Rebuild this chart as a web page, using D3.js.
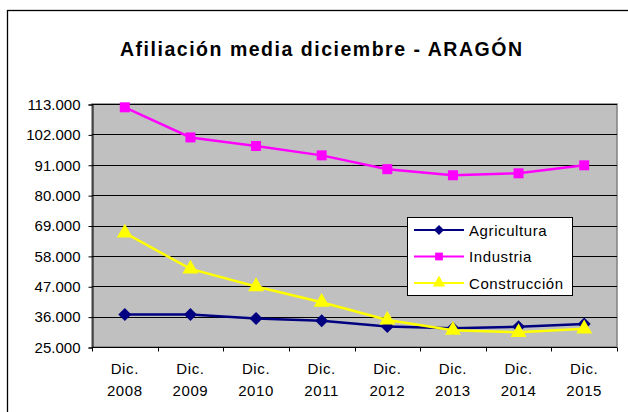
<!DOCTYPE html>
<html>
<head>
<meta charset="utf-8">
<script src="https://cdn.jsdelivr.net/npm/d3@7"></script>
<style>
body{margin:0;background:#fff;}
text{font-family:"Liberation Sans",Arial,sans-serif;}
</style>
</head>
<body>
<script>
// datos
var years=["2008","2009","2010","2011","2012","2013","2014","2015"];
var agricultura=[36800,36800,35300,34500,32400,31800,32300,33300];
var industria=[111800,100900,97800,94400,89400,87200,87900,90800];
var construccion=[66300,53300,46900,41200,34800,31100,30300,31600];
var yTicks=[25000,36000,47000,58000,69000,80000,91000,102000,113000];

var series=[
  {name:"Agricultura",values:agricultura,color:"#000080",symbol:d3.symbolSquare,size:85,rot:45},
  {name:"Industria",values:industria,color:"#ff00ff",symbol:d3.symbolSquare,size:100,rot:0},
  {name:"Construcción",values:construccion,color:"#ffff00",symbol:d3.symbolTriangle,size:110,rot:0}
];

var svg=d3.select("body").append("svg").attr("width",628).attr("height",412);

svg.append("rect").attr("x",7.5).attr("y",10.5).attr("width",660).attr("height",440)
   .attr("fill","#fff").attr("stroke","#000").attr("stroke-width",1.3);

svg.append("text").attr("x",321).attr("y",56).attr("text-anchor","middle")
   .attr("font-size",19.5).attr("font-weight","bold")
   .attr("textLength",402).attr("lengthAdjust","spacing")
   .text("Afiliación media diciembre - ARAGÓN");

var L=92,R=617,T=104,B=347;
var x=d3.scaleBand().domain(years).range([L,R]);
var y=d3.scaleLinear().domain([25000,113000]).range([B,T]);

svg.append("rect").attr("x",L).attr("y",T).attr("width",R-L).attr("height",B-T)
   .attr("fill","#c0c0c0").attr("stroke","#808080").attr("stroke-width",1.5);

svg.append("g").selectAll("line").data(yTicks.slice(1)).enter().append("line")
   .attr("x1",L).attr("x2",R).attr("y1",function(d){return Math.round(y(d))+0.5;})
   .attr("y2",function(d){return Math.round(y(d))+0.5;})
   .attr("stroke","#000");

var fmt=function(d){return d3.format(",")(d).replace(/,/g,".");};
var yAxis=d3.axisLeft(y).tickValues(yTicks).tickSize(4).tickPadding(8).tickFormat(fmt);
var gy=svg.append("g").attr("transform","translate("+(L+0.5)+",0.5)").call(yAxis);
gy.attr("font-size",15).attr("font-family",null);
gy.selectAll("text").attr("fill","#000");

// eje x con marcas entre categorias
var gx=svg.append("g").attr("transform","translate(0,"+(B+0.5)+")");
gx.append("line").attr("x1",L).attr("x2",R).attr("stroke","#000");
var bounds=d3.range(years.length+1).map(function(i){return L+i*x.bandwidth();});
gx.selectAll(".tk").data(bounds).enter().append("line")
  .attr("x1",function(d){return Math.round(d)+0.5;}).attr("x2",function(d){return Math.round(d)+0.5;})
  .attr("y1",0).attr("y2",4).attr("stroke","#000");
var lbl=gx.selectAll(".lb").data(years).enter().append("text")
  .attr("text-anchor","middle").attr("font-size",15).attr("letter-spacing",0.6)
  .attr("x",function(d){return x(d)+x.bandwidth()/2;});
lbl.append("tspan").attr("x",function(d){return x(d)+x.bandwidth()/2;}).attr("y",26).text("Dic.");
lbl.append("tspan").attr("x",function(d){return x(d)+x.bandwidth()/2;}).attr("y",48).text(function(d){return d;});

var line=d3.line().x(function(d,i){return x(years[i])+x.bandwidth()/2;}).y(function(d){return y(d);});

series.forEach(function(s){
  svg.append("path").datum(s.values).attr("d",line).attr("fill","none")
     .attr("stroke",s.color).attr("stroke-width",2.5);
  svg.append("g").selectAll("path").data(s.values).enter().append("path")
     .attr("d",d3.symbol().type(s.symbol).size(s.size))
     .attr("transform",function(d,i){return "translate("+(x(years[i])+x.bandwidth()/2)+","+y(d)+") rotate("+s.rot+")";})
     .attr("fill",s.color);
});

// leyenda
var lg=svg.append("g").attr("transform","translate(407,217)");
lg.append("rect").attr("x",0.5).attr("y",0.5).attr("width",165).attr("height",78)
  .attr("fill","#fff").attr("stroke","#000");
series.forEach(function(s,i){
  var cy=13+i*26.5;
  lg.append("line").attr("x1",7).attr("x2",57).attr("y1",cy).attr("y2",cy)
    .attr("stroke",s.color).attr("stroke-width",2);
  lg.append("path").attr("d",d3.symbol().type(s.symbol).size(s.size*0.6))
    .attr("transform","translate(32,"+cy+") rotate("+s.rot+")").attr("fill",s.color);
  lg.append("text").attr("x",62).attr("y",cy+5.5).attr("font-size",15)
    .attr("letter-spacing",0.6).text(s.name);
});
</script>
</body>
</html>
